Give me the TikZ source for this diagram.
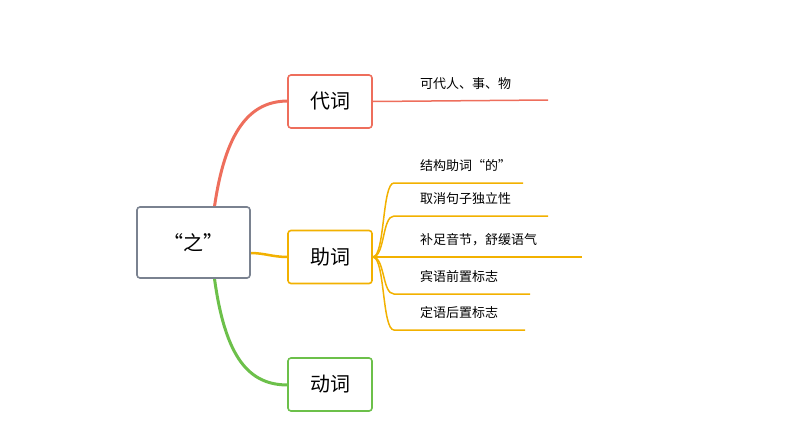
\documentclass[tikz,border=0pt]{standalone}
\usepackage{fontspec}
\setmainfont{Noto Sans CJK SC}
\begin{document}
\begin{tikzpicture}[x=1pt,y=-1pt,
  box/.style={draw,line width=1.6pt,rounded corners=3pt,minimum width=84pt,minimum height=53pt,font=\fontsize{20}{22}\selectfont,fill=white},
  leaf/.style={anchor=west,font=\fontsize{13}{15}\selectfont,inner sep=0pt}]
\definecolor{cr}{HTML}{EE6E5C}\definecolor{cy}{HTML}{F2B100}\definecolor{cg}{HTML}{6CC04A}\definecolor{cgr}{HTML}{7A8290}
\useasboundingbox (0,0) rectangle (794,447);
\draw[cr,line width=3pt] (214,210) .. controls (225,130) and (250,101) .. (288,101);
\draw[cy,line width=2.5pt] (250,253) .. controls (265,253) and (272,257) .. (288,257);
\draw[cg,line width=3pt] (214,275) .. controls (225,360) and (250,385) .. (288,385);
\node[box,draw=cgr,minimum width=113pt,minimum height=71pt] (root) at (193.5,242.5) {“之”};
\node[box,draw=cr] (a) at (330,101.5) {代词};
\node[box,draw=cy] (b) at (330,257) {助词};
\node[box,draw=cg] (c) at (330,384.5) {动词};
\coordinate (l0) at (548,100);
\draw[cr,line width=1.5pt] (a.east) -- (l0);
\node[leaf] (t0) at (420,84) {可代人、事、物};
\foreach \y/\e/\t [count=\i] in {183/523/结构助词“的”,216/548/取消句子独立性,257/582/补足音节，舒缓语气,294/530/宾语前置标志,330/525/定语后置标志}{
  \coordinate (s\i) at (394,\y);
  \coordinate (e\i) at (\e,\y);
  \draw[cy,line width=1.5pt] (b.east) .. controls (385,257) and (382,\y) .. (s\i) -- (e\i);
  \node[leaf] (t\i) at (420,\y-17) {\t};
}
\end{tikzpicture}
\end{document}
